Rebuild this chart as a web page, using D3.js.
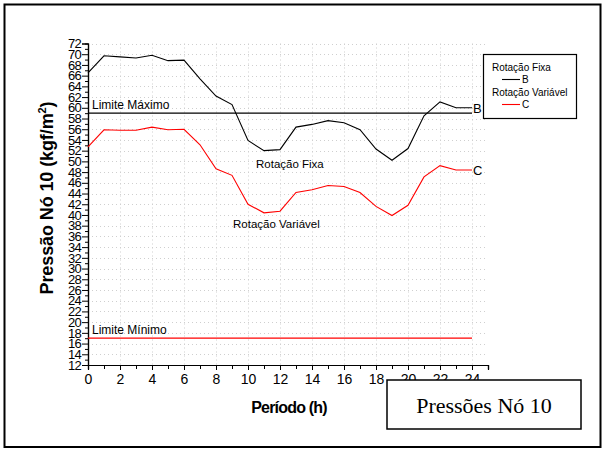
<!DOCTYPE html>
<html>
<head>
<meta charset="utf-8">
<script src="https://cdn.jsdelivr.net/npm/d3@7"></script>
<style>
  html, body { margin: 0; padding: 0; background: #fff; }
  svg { display: block; font-family: "Liberation Sans", Arial, sans-serif; }
</style>
</head>
<body>
<svg id="chart" width="603" height="449"></svg>
<script>
// Hourly pressure at node 10 (kgf/m²)
const hours = [0, 1, 2, 3, 4, 5, 6, 7, 8, 9, 10, 11, 12, 13, 14, 15, 16, 17, 18, 19, 20, 21, 22, 23, 24];
const rotacaoFixa = [66.5, 69.7, 69.5, 69.3, 69.8, 68.8, 68.9, 65.4, 62.2, 60.6, 53.9, 52.0, 52.2, 56.4, 56.9, 57.6, 57.2, 55.9, 52.3, 50.2, 52.4, 58.5, 61.1, 60.0, 60.0];
const rotacaoVariavel = [52.7, 55.9, 55.8, 55.8, 56.4, 55.9, 56.0, 53.1, 48.6, 47.4, 42.0, 40.4, 40.7, 44.2, 44.7, 45.5, 45.3, 44.2, 41.6, 39.9, 41.8, 47.1, 49.2, 48.4, 48.4];
const limiteMaximo = 59;
const limiteMinimo = 17;
const xTicks = [0, 2, 4, 6, 8, 10, 12, 14, 16, 18, 20, 22, 24];
const yTicks = [12, 14, 16, 18, 20, 22, 24, 26, 28, 30, 32, 34, 36, 38, 40, 42, 44, 46, 48, 50, 52, 54, 56, 58, 60, 62, 64, 66, 68, 70, 72];

const svg = d3.select("#chart");

const x = d3.scaleLinear().domain([0, 25]).range([88, 488]);
const y = d3.scaleLinear().domain([12, 72]).range([365, 43.5]);

// outer frame
svg.append("rect")
  .attr("x", 4.5).attr("y", 4.5).attr("width", 596).attr("height", 442.5)
  .attr("fill", "none").attr("stroke", "#000").attr("stroke-width", 2);

// dotted grid
const grid = svg.append("g").attr("stroke", "#cfcfcf").attr("stroke-width", 1).attr("stroke-dasharray", "1,3");
grid.selectAll("line.v").data(xTicks.filter(d => d > 0)).join("line")
  .attr("x1", d => Math.round(x(d)) + 0.5).attr("x2", d => Math.round(x(d)) + 0.5)
  .attr("y1", y(72)).attr("y2", y(12));
grid.selectAll("line.h").data(yTicks.filter(d => d > 12)).join("line")
  .attr("x1", x(0)).attr("x2", x(25))
  .attr("y1", d => Math.round(y(d)) + 0.5).attr("y2", d => Math.round(y(d)) + 0.5);

// axes
const xAxis = d3.axisBottom(x).tickValues(xTicks).tickSize(5).tickPadding(4).tickFormat(d3.format("d"));
const xMinor = d3.axisBottom(x).tickValues(d3.range(1, 26, 2)).tickSize(4).tickFormat("");
const yAxis = d3.axisLeft(y).tickValues(yTicks).tickSize(6).tickPadding(1).tickFormat(d3.format("d"));
const yMinor = d3.axisLeft(y).tickValues(d3.range(13, 72, 2)).tickSize(3).tickFormat("");

function styleAxis(g) {
  g.selectAll(".domain").attr("stroke", "#000").attr("stroke-width", 1.2);
  g.selectAll(".tick line").attr("stroke", "#000");
  g.selectAll("text").attr("fill", "#000").attr("font-family", "Liberation Sans, Arial, sans-serif");
}

svg.append("g").attr("transform", "translate(0,365)").call(xMinor).call(styleAxis);
const gx = svg.append("g").attr("transform", "translate(0,365)").call(xAxis).call(styleAxis);
gx.selectAll("text").attr("font-size", 14);
svg.append("g").attr("transform", "translate(88,0)").call(yMinor).call(styleAxis);
const gy = svg.append("g").attr("transform", "translate(88,0)").call(yAxis).call(styleAxis);
gy.selectAll("text").attr("font-size", 13).attr("letter-spacing", -0.7);

// limit lines
svg.append("line")
  .attr("x1", x(0)).attr("x2", x(24)).attr("y1", y(limiteMaximo)).attr("y2", y(limiteMaximo))
  .attr("stroke", "#000").attr("stroke-width", 1.3);
svg.append("line")
  .attr("x1", x(0)).attr("x2", x(24)).attr("y1", y(limiteMinimo)).attr("y2", y(limiteMinimo))
  .attr("stroke", "#ff0000").attr("stroke-width", 1.3);

// series
const line = d3.line().x((d, i) => x(hours[i])).y(d => y(d));
svg.append("path").datum(rotacaoFixa).attr("d", line)
  .attr("fill", "none").attr("stroke", "#000").attr("stroke-width", 1.1);
svg.append("path").datum(rotacaoVariavel).attr("d", line)
  .attr("fill", "none").attr("stroke", "#ff0000").attr("stroke-width", 1.1);

// annotations
const ann = svg.append("g").attr("fill", "#000");
ann.append("text").attr("x", 92).attr("y", y(limiteMaximo) - 4).attr("font-size", 12).text("Limite Máximo");
ann.append("text").attr("x", 92).attr("y", y(limiteMinimo) - 4).attr("font-size", 12).text("Limite Mínimo");
ann.append("text").attr("x", 256).attr("y", 168).attr("font-size", 11.5).text("Rotação Fixa");
ann.append("text").attr("x", 233).attr("y", 228).attr("font-size", 11.5).text("Rotação Variável");
ann.append("text").attr("x", x(24) + 1).attr("y", y(rotacaoFixa[24]) + 5).attr("font-size", 13).text("B");
ann.append("text").attr("x", x(24) + 1).attr("y", y(rotacaoVariavel[24]) + 5).attr("font-size", 13).text("C");

// axis titles
svg.append("text").attr("x", 289).attr("y", 413).attr("text-anchor", "middle")
  .attr("font-size", 16).attr("font-weight", "bold").attr("letter-spacing", -0.8).text("Período (h)");
const yt = svg.append("text").attr("transform", "translate(53,198) rotate(-90)").attr("text-anchor", "middle")
  .attr("font-size", 18).attr("font-weight", "bold").attr("letter-spacing", -0.1);
yt.append("tspan").text("Pressão Nó 10 (kgf/m");
yt.append("tspan").attr("font-size", 11).attr("dy", -7).text("2");
yt.append("tspan").attr("dy", 7).text(")");

// legend
const lg = svg.append("g");
lg.append("rect").attr("x", 483.5).attr("y", 54.5).attr("width", 93).attr("height", 64)
  .attr("fill", "#fff").attr("stroke", "#000").attr("stroke-width", 1.2);
const legendItems = [
  { name: "Rotação Fixa", key: "B", color: "#000" },
  { name: "Rotação Variável", key: "C", color: "#ff0000" }
];
legendItems.forEach((it, i) => {
  const y0 = 71 + i * 25;
  lg.append("text").attr("x", 492).attr("y", y0).attr("font-size", 10).text(it.name);
  lg.append("line").attr("x1", 502).attr("x2", 520).attr("y1", y0 + 8.5).attr("y2", y0 + 8.5)
    .attr("stroke", it.color).attr("stroke-width", 1.1);
  lg.append("text").attr("x", 522).attr("y", y0 + 12).attr("font-size", 10).text(it.key);
});

// title box
svg.append("rect").attr("x", 387).attr("y", 380).attr("width", 194).attr("height", 49)
  .attr("fill", "#fff").attr("stroke", "#000").attr("stroke-width", 1.5);
svg.append("text").attr("x", 484).attr("y", 413).attr("text-anchor", "middle")
  .attr("font-family", "Liberation Serif, Times New Roman, serif").attr("font-size", 22).text("Pressões Nó 10");
</script>
</body>
</html>
